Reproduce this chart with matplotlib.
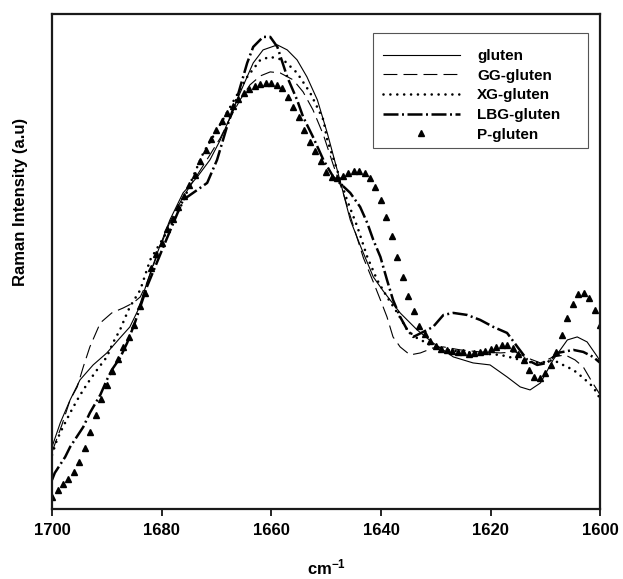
import matplotlib
matplotlib.use("Agg")
import matplotlib.pyplot as plt
from matplotlib.patches import Rectangle

plt.rcParams["font.family"] = ["Liberation Sans", "DejaVu Sans"]
plt.rcParams["mathtext.fontset"] = "custom"
plt.rcParams["mathtext.bf"] = "Liberation Sans:bold"
plt.rcParams["mathtext.rm"] = "Liberation Sans:bold"

# gluten (solid)
gluten_x = [1700.0, 1698.5, 1696.7, 1694.9, 1692.5, 1690.0, 1687.6, 1685.8, 1684.3, 1682.7,
            1680.8, 1678.5, 1676.1, 1673.5, 1671.2, 1669.3, 1667.5, 1665.7, 1663.3, 1661.5,
            1658.9, 1657.1, 1655.3, 1653.5, 1651.6, 1649.8, 1647.4, 1645.6, 1643.6, 1641.4,
            1639.6, 1636.5, 1633.4, 1630.5, 1626.8, 1623.2, 1620.1, 1617.0, 1614.6, 1612.8,
            1610.9, 1608.6, 1606.0, 1604.2, 1602.4, 1600.5, 1600.0]
gluten_y = [65, 89, 112, 132, 147, 159, 174, 185, 202, 229,
            259, 292, 319, 335, 352, 372, 395, 419, 449, 462,
            467, 462, 452, 435, 412, 379, 330, 292, 264, 235,
            221, 199, 182, 169, 155, 149, 147, 135, 125, 122,
            129, 152, 172, 175, 170, 155, 150]

# GG-gluten (dashed)
gg_x = [1700.0, 1698.2, 1696.7, 1695.4, 1694.3, 1693.1, 1691.2, 1689.1, 1687.0, 1685.2,
        1683.9, 1682.7, 1680.8, 1678.5, 1676.1, 1673.5, 1671.2, 1669.3, 1667.5, 1665.7,
        1663.9, 1662.0, 1660.2, 1658.4, 1656.0, 1654.2, 1652.4, 1650.5, 1648.7, 1646.9,
        1645.1, 1643.2, 1641.4, 1640.1, 1638.9, 1637.8, 1636.5, 1634.7, 1632.8, 1630.5,
        1628.6, 1625.5, 1621.9, 1618.2, 1615.5, 1613.3, 1610.9, 1608.6, 1606.4, 1604.6,
        1603.1, 1601.5, 1600.0]
gg_y = [60, 87, 112, 125, 145, 165, 189, 199, 204, 209,
        215, 229, 257, 290, 315, 337, 357, 374, 394, 412,
        427, 436, 440, 439, 432, 420, 402, 377, 347, 319,
        287, 254, 230, 212, 195, 175, 165, 157, 159, 164,
        165, 162, 160, 159, 160, 154, 149, 155, 157, 152,
        145, 130, 117]

# XG-gluten (dotted)
xg_x = [1700.0, 1699.1, 1698.0, 1696.7, 1695.4, 1694.3, 1693.1, 1691.8, 1690.0, 1688.9,
        1687.6, 1686.3, 1685.8, 1683.9, 1682.1, 1678.5, 1676.1, 1674.3, 1672.4, 1669.9,
        1667.5, 1664.4, 1662.0, 1660.2, 1657.8, 1655.3, 1652.9, 1650.5, 1649.8, 1648.0,
        1646.2, 1644.3, 1642.5, 1640.7, 1638.9, 1637.0, 1635.2, 1633.8, 1631.0, 1627.9,
        1623.2, 1618.2, 1615.9, 1613.3, 1610.9, 1608.6, 1606.8, 1604.9, 1603.1, 1601.3,
        1600.0]
xg_y = [57, 72, 85, 99, 112, 122, 132, 142, 155, 169,
        182, 199, 205, 222, 252, 285, 310, 335, 359, 382,
        405, 435, 452, 455, 452, 439, 419, 392, 372, 342,
        312, 285, 255, 232, 215, 199, 182, 175, 167, 162,
        159, 157, 154, 150, 149, 152, 147, 142, 134, 125,
        113]

# LBG-gluten (dash-dot)
lbg_x = [1700.0, 1699.5, 1697.6, 1696.7, 1694.3, 1693.1, 1691.2, 1690.0, 1689.1, 1687.6,
         1686.3, 1684.9, 1683.9, 1682.7, 1679.7, 1676.1, 1673.5, 1671.7, 1669.9, 1668.1,
         1666.2, 1664.4, 1663.3, 1661.5, 1660.2, 1658.9, 1657.1, 1655.3, 1654.2, 1652.4,
         1650.5, 1648.7, 1645.6, 1643.8, 1642.5, 1641.4, 1640.1, 1638.9, 1637.8, 1636.5,
         1635.2, 1634.1, 1632.3, 1630.5, 1628.6, 1626.8, 1624.3, 1621.9, 1619.5, 1617.0,
         1615.1, 1613.3, 1611.5, 1609.7, 1607.8, 1604.9, 1603.1, 1601.3, 1600.0]
lbg_y = [32, 39, 55, 65, 85, 99, 117, 132, 142, 154,
         169, 189, 205, 225, 265, 312, 322, 329, 352, 385,
         415, 449, 465, 475, 475, 465, 435, 412, 395, 375,
         352, 335, 319, 305, 289, 272, 255, 232, 212, 195,
         182, 175, 180, 185, 197, 199, 197, 192, 185, 179,
         165, 152, 147, 149, 159, 162, 160, 155, 149]

# P-gluten (triangles, one per cm-1 from 1700 down to 1600)
p_x = list(range(1700, 1599, -1))
p_y = [15, 22, 28, 33, 40, 50, 64, 80, 97, 113,
       127, 141, 153, 165, 175, 187, 206, 219, 244, 258,
       269, 283, 293, 305, 316, 327, 337, 351, 362, 373,
       382, 391, 399, 406, 413, 419, 423, 426, 428, 429,
       429, 427, 424, 415, 405, 395, 382, 370, 361, 351,
       340, 335, 334, 336, 339, 341, 341, 339, 334, 325,
       312, 295, 276, 255, 235, 216, 201, 186, 178, 171,
       166, 163, 162, 161, 160, 160, 158, 159, 160, 161,
       163, 165, 167, 167, 164, 158, 152, 142, 135, 134,
       139, 147, 160, 177, 194, 208, 218, 219, 214, 202,
       187]

xticks = [1700, 1680, 1660, 1640, 1620, 1600]

fig = plt.figure(figsize=(6.23, 5.79), dpi=100)
ax = fig.add_axes([0.0835, 0.121, 0.880, 0.855])

ax.plot(gluten_x, gluten_y, color="black", lw=0.8, label="gluten")
ax.plot(gg_x, gg_y, color="black", lw=0.8, ls=(0, (12.5, 5.5)), label="GG-gluten")
ax.plot(xg_x, xg_y, color="black", lw=1.9, ls=(0, (0.01, 2.6)),
        dash_capstyle="round", label="XG-gluten")
ax.plot(lbg_x, lbg_y, color="black", lw=1.8, ls=(0, (6, 1.4, 0.8, 1.4)),
        label="LBG-gluten")
ax.plot(p_x, p_y, ls="none", marker="^", ms=5, color="black", label="P-gluten")

ax.set_xlim(1700, 1600)
ax.set_ylim(3, 498)
ax.set_xticks(xticks)
ax.set_xticklabels([str(t) for t in xticks], fontsize=12, fontweight="bold")
ax.set_yticks([])
ax.tick_params(axis="x", direction="out", length=5, width=1.2, pad=5)

for s in ax.spines.values():
    s.set_linewidth(1.6)
    s.set_color("#1a1a1a")

ax.set_xlabel(r"$\mathbf{cm^{-1}}$", fontsize=12, labelpad=14)
ax.set_ylabel("Raman Intensity (a.u)", fontsize=12, fontweight="bold")
ax.yaxis.set_label_coords(-0.043, 0.62)

# legend box drawn separately so the frame can carry the wide right margin
ax.add_patch(Rectangle((0.586, 0.729), 0.392, 0.233, transform=ax.transAxes,
                       fill=False, edgecolor="#555555", lw=0.8, zorder=5))
ax.legend(loc="upper left", bbox_to_anchor=(0.604, 0.929),
          handlelength=5.0, handletextpad=1.15, labelspacing=0.37,
          borderpad=0, borderaxespad=0, frameon=False,
          prop={"weight": "bold", "size": 11})

fig.savefig("out.png", dpi=100)
